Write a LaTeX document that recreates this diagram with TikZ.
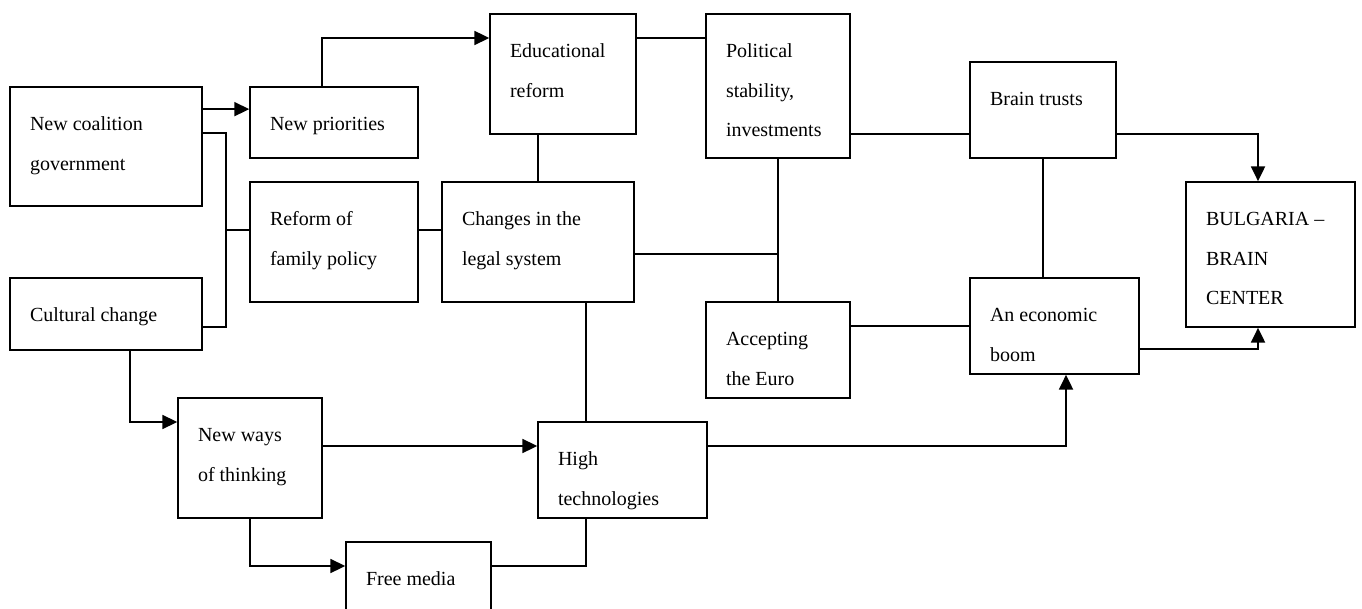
\documentclass[tikz,border=0pt]{standalone}
\usepackage{fontspec}
\setmainfont{Liberation Serif}
\usetikzlibrary{fit, arrows.meta}

\begin{document}
\begin{tikzpicture}[x=0.75pt, y=-0.75pt, line width=1.3pt,
    box/.style={draw, rectangle, inner sep=0pt},
    txt/.style={anchor=north west, inner sep=0pt, align=left, font=\fontsize{15}{29.6}\selectfont},
    arr/.style={-{Triangle[length=11pt, width=10.5pt]}}]
    % page frame
    \useasboundingbox (0,0) rectangle (1362,609);
    \clip (0,0) rectangle (1362,609);

    % bend points shared by the connectors
    \coordinate (C_NP_ER) at (322,38);
    \coordinate (C_FAM) at (226,230);
    \coordinate (C_CHG_POL) at (778,254);
    \coordinate (C_BT_BUL) at (1258,134);
    \coordinate (C_FM_HT) at (586,566);
    \coordinate (C_CC_NW) at (130,422);
    \coordinate (C_HT_BOOM) at (1066,446);

    % 1. New coalition government
    \node[box, fit={(10,87) (202,206)}] (NCG) {};
    \node[txt] (NCG_T) at ([shift={(20,16)}]NCG.north west) {\strut New coalition\\government};

    % 2. New priorities
    \node[box, fit={(250,87) (418,158)}] (NP) {};
    \node[txt] (NP_T) at ([shift={(20,16)}]NP.north west) {\strut New priorities};

    % 3. Educational reform
    \node[box, fit={(490,14) (636,134)}] (ER) {};
    \node[txt] (ER_T) at ([shift={(20,16)}]ER.north west) {\strut Educational\\reform};

    % 4. Political stability
    \node[box, fit={(706,14) (850,158)}] (POL) {};
    \node[txt] (POL_T) at ([shift={(20,16)}]POL.north west) {\strut Political\\stability,\\investments};

    % 5. Brain trusts
    \node[box, fit={(970,62) (1116,158)}] (BT) {};
    \node[txt] (BT_T) at ([shift={(20,16)}]BT.north west) {\strut Brain trusts};

    % 6. Bulgaria - brain center
    \node[box, fit={(1186,182) (1355,327)}] (BUL) {};
    \node[txt] (BUL_T) at ([shift={(20,16)}]BUL.north west) {\strut BULGARIA --\\BRAIN\\CENTER};

    % 7. Reform of family policy
    \node[box, fit={(250,182) (418,302)}] (FAM) {};
    \node[txt] (FAM_T) at ([shift={(20,16)}]FAM.north west) {\strut Reform of\\family policy};

    % 8. Changes in the legal system
    \node[box, fit={(442,182) (634,302)}] (CHG) {};
    \node[txt] (CHG_T) at ([shift={(20,16)}]CHG.north west) {\strut Changes in the\\legal system};

    % 9. Cultural change
    \node[box, fit={(10,278) (202,350)}] (CC) {};
    \node[txt] (CC_T) at ([shift={(20,16)}]CC.north west) {\strut Cultural change};

    % 10. Accepting the Euro
    \node[box, fit={(706,302) (850,398)}] (ACC) {};
    \node[txt] (ACC_T) at ([shift={(20,16)}]ACC.north west) {\strut Accepting\\the Euro};

    % 11. An economic boom
    \node[box, fit={(970,278) (1139,374)}] (BOOM) {};
    \node[txt] (BOOM_T) at ([shift={(20,16)}]BOOM.north west) {\strut An economic\\boom};

    % 12. New ways of thinking
    \node[box, fit={(178,398) (322,518)}] (NW) {};
    \node[txt] (NW_T) at ([shift={(20,16)}]NW.north west) {\strut New ways\\of thinking};

    % 13. High technologies
    \node[box, fit={(538,422) (707,518)}] (HT) {};
    \node[txt] (HT_T) at ([shift={(20,16)}]HT.north west) {\strut High\\technologies};

    % 14. Free media (cut by the page edge)
    \node[box, fit={(346,542) (491,640)}] (FM) {};
    \node[txt] (FM_T) at ([shift={(20,16)}]FM.north west) {\strut Free media};

    % connectors
    \draw[arr] ([shift={(0,23)}]NCG.north east) -- ([shift={(0,23)}]NP.north west);
    \draw[arr] (NP.north -| C_NP_ER) -- (C_NP_ER) -- (ER.west |- C_NP_ER);
    \draw (ER.east |- C_NP_ER) -- (POL.west |- C_NP_ER);
    \draw (CHG.north) -- (CHG.north |- ER.south);
    \draw ([shift={(0,47)}]NCG.north east) -| (C_FAM);
    \draw ([shift={(0,-24)}]CC.south east) -| (C_FAM);
    \draw (C_FAM) -- (FAM.west |- C_FAM);
    \draw (FAM.east |- C_FAM) -- (CHG.west |- C_FAM);
    \draw (CHG.east |- C_CHG_POL) -- (C_CHG_POL);
    \draw (POL.south) -- (ACC.north);
    \draw (POL.east |- C_BT_BUL) -- (BT.west |- C_BT_BUL);
    \draw[arr] (BT.east |- C_BT_BUL) -- (C_BT_BUL) -- (BUL.north -| C_BT_BUL);
    \draw (BT.south) -- (BT.south |- BOOM.north);
    \draw (ACC.east |- BOOM.west) -- (BOOM.west);
    \draw[arr] ([shift={(0,72)}]BOOM.north east) -| (BUL.south -| C_BT_BUL);
    \draw (CHG.south -| C_FM_HT) -- (HT.north -| C_FM_HT);
    \draw (FM.east |- C_FM_HT) -| (HT.south -| C_FM_HT);
    \draw[arr] (CC.south -| C_CC_NW) |- (NW.west |- C_CC_NW);
    \draw[arr] (NW.east |- C_HT_BOOM) -- (HT.west |- C_HT_BOOM);
    \draw[arr] (HT.east |- C_HT_BOOM) -| (BOOM.south -| C_HT_BOOM);
    \draw[arr] (NW.south) |- (FM.west |- C_FM_HT);
\end{tikzpicture}
\end{document}
